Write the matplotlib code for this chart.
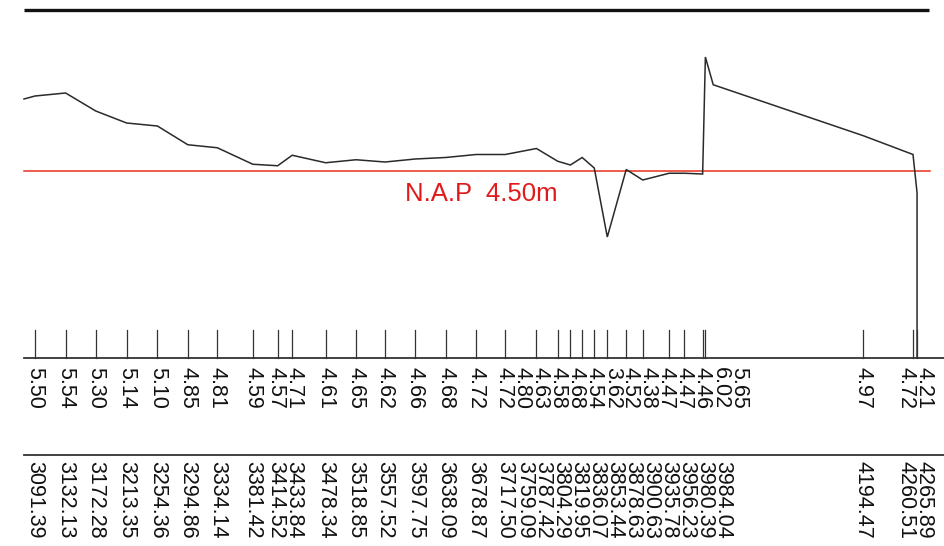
import matplotlib
matplotlib.use("Agg")
import matplotlib.pyplot as plt

# ---------------- data ----------------
station_dist = [3091.39, 3132.13, 3172.28, 3213.35, 3254.36, 3294.86, 3334.14,
                3381.42, 3414.52, 3433.84, 3478.34, 3518.85, 3557.52, 3597.75,
                3638.09, 3678.87, 3717.50, 3759.09, 3787.42, 3804.29, 3819.95,
                3836.07, 3853.44, 3878.63, 3900.63, 3935.78, 3956.23, 3980.39,
                3984.04, 3994.50, 4194.47, 4260.51, 4265.89]
station_elev = [5.50, 5.54, 5.30, 5.14, 5.10, 4.85, 4.81, 4.59, 4.57, 4.71,
                4.61, 4.65, 4.62, 4.66, 4.68, 4.72, 4.72, 4.80, 4.63, 4.58,
                4.68, 4.54, 3.62, 4.52, 4.38, 4.47, 4.47, 4.46, 6.02, 5.65,
                4.97, 4.72, 4.21]
unmarked_dist = [3994.50]          # profile vertex without tick / distance label
profile_start = (3076.7, 5.46)     # line begins slightly before first station
nap_level = 4.50
nap_label = "N.A.P  4.50m"

# ---------------- layout ----------------
W, H = 944, 546
SX = 0.751          # px per metre
SY = 75.0           # px per metre (vertical)
xmin = station_dist[0] - 35 / SX
xmax = xmin + W / SX
ymax = nap_level + 171 / SY
ymin = ymax - H / SY

def yf(px):
    return 1 - px / H

fig = plt.figure(figsize=(W / 100, H / 100), dpi=100)
ax = fig.add_axes([0, 0, 1, 1])
ax.set_xlim(xmin, xmax)
ax.set_ylim(ymin, ymax)
ax.axis("off")
bt = ax.get_xaxis_transform()

x_left = xmin + 24 / SX
x_right_top = xmin + 929 / SX
x_right = xmax

# top frame line
ax.plot([x_left, x_right_top], [yf(10), yf(10)], transform=bt, color="#111111",
        lw=2.4, solid_capstyle="butt")

# NAP reference line
ax.plot([x_left, xmin + 930 / SX], [nap_level, nap_level], color="#e8301c", lw=1.1)
ax.text((xmin + 481 / SX), nap_level - 23 / SY, nap_label, color="#e01a1a",
        fontsize=18.5, ha="center", va="center",
        family=["Liberation Sans Narrow", "Liberation Sans", "DejaVu Sans"])

# profile line
base_px = 358
base_elev = ymin + (ymax - ymin) * yf(base_px)
px_line = [profile_start[0]] + station_dist + [station_dist[-1]]
py_line = [profile_start[1]] + station_elev + [base_elev]
ax.plot(px_line, py_line, color="#2a2a2a", lw=1.1, solid_joinstyle="miter")

# bands
for ypx in (base_px, 455):
    ax.plot([x_left, x_right], [yf(ypx), yf(ypx)], transform=bt,
            color="#333333", lw=1.3)

for d in station_dist:
    if d in unmarked_dist:
        continue
    ax.plot([d, d], [yf(330), yf(base_px)], transform=bt, color="#333333", lw=0.9)

# label spreading (cluster centring with minimum gap)
def spread(anchors, gap):
    groups = []
    for a in anchors:
        groups.append([a])
        while len(groups) > 1:
            g1, g2 = groups[-2], groups[-1]
            m1 = sum(g1) / len(g1); m2 = sum(g2) / len(g2)
            r1 = m1 + (len(g1) - 1) / 2 * gap
            l2 = m2 - (len(g2) - 1) / 2 * gap
            if r1 + gap > l2:
                groups[-2:] = [g1 + g2]
            else:
                break
    out = []
    for g in groups:
        m = sum(g) / len(g)
        for k in range(len(g)):
            out.append(m + (k - (len(g) - 1) / 2) * gap)
    return out

gap = 18 / SX
fs = 15.5
fam = ["Liberation Sans", "DejaVu Sans"]

elev_pos = spread(station_dist, gap)
for x, e in zip(elev_pos, station_elev):
    ax.text(x, yf(367), f"{e:.2f}", transform=bt, ha="center", va="top",
            rotation=270, fontsize=fs, family=fam, color="#111111")

dist_shown = [d for d in station_dist if d not in unmarked_dist]
dist_pos = spread(dist_shown, gap)
for x, d in zip(dist_pos, dist_shown):
    ax.text(x, yf(461), f"{d:.2f}", transform=bt, ha="center", va="top",
            rotation=270, fontsize=fs, family=fam, color="#111111")

fig.savefig("out.png", dpi=100, facecolor="white")
